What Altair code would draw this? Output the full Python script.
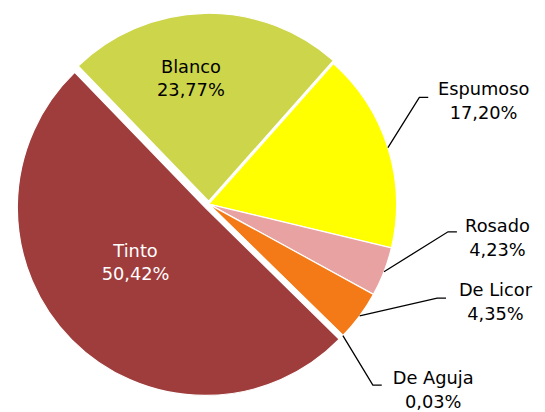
import math
import altair as alt
import pandas as pd

# ---- data ----
categories = ["Blanco", "Espumoso", "Rosado", "De Licor", "De Aguja", "Tinto"]
shares = [23.77, 17.20, 4.23, 4.35, 0.03, 50.42]
pct_labels = ["23,77%", "17,20%", "4,23%", "4,35%", "0,03%", "50,42%"]
colors = ["#CDD54A", "#FFFF00", "#E8A2A2", "#F47A18", "#F47A18", "#9F3C3C"]

# ---- layout / style ----
W, H = 406, 384
CX, CY = W / 2, H / 2
R = 190
START_DEG = -44.0
EXPLODE = {"Blanco": 3, "Tinto": 5}
FONT = "DejaVu Sans"
FSIZE = 18
LINE_H = 24
# label block centre, px from pie centre
LABEL_OFFSET = {
    "Blanco": (-18, -126), "Tinto": (-74, 60), "Espumoso": (278, -103),
    "Rosado": (292, 35), "De Licor": (290, 100), "De Aguja": (227, 189),
}
# leader-line elbow, px from pie centre
ELBOW_OFFSET = {
    "Espumoso": (213, -108), "Rosado": (242, 28),
    "De Licor": (231, 95), "De Aguja": (166, 183),
}
TAIL = 9

total = sum(shares)
start_rad = math.radians(START_DEG)

df = pd.DataFrame({"cat": categories, "share": shares, "order": list(range(len(categories)))})

explode_expr = " : ".join(
    [f"datum.cat == '{k}' ? {v}" for k, v in EXPLODE.items()]
) + " : 0"

arcs = (
    alt.Chart(df)
    .transform_window(cum="sum(share)", sort=[alt.SortField("order")], frame=[None, 0])
    .transform_calculate(
        beg="datum.cum - datum.share",
        mid=f"{start_rad} + (datum.cum - datum.share / 2) / {total} * 2 * PI",
        ex=explode_expr,
    )
    .transform_calculate(
        px=f"{CX} + datum.ex * sin(datum.mid)",
        py=f"{CY} - datum.ex * cos(datum.mid)",
    )
    .mark_arc(radius=R, stroke="white", strokeWidth=1.2)
    .encode(
        theta=alt.Theta("beg:Q", scale=alt.Scale(domain=[0, total], range=[start_rad, start_rad + 2 * math.pi])),
        theta2="cum:Q",
        x=alt.X("px:Q", scale=None, axis=None),
        y=alt.Y("py:Q", scale=None, axis=None),
        color=alt.Color("cat:N", scale=alt.Scale(domain=categories, range=colors), legend=None),
        order=alt.Order("order:Q"),
    )
)

# leader lines
rows = []
cum = 0.0
mids = {}
for c, s in zip(categories, shares):
    mids[c] = start_rad + (cum + s / 2) / total * 2 * math.pi
    cum += s
for c, (ex_, ey_) in ELBOW_OFFSET.items():
    m = mids[c]
    rows.append({"cat": c, "i": 0, "x": CX + R * math.sin(m), "y": CY - R * math.cos(m)})
    rows.append({"cat": c, "i": 1, "x": CX + ex_, "y": CY + ey_})
    rows.append({"cat": c, "i": 2, "x": CX + ex_ + TAIL, "y": CY + ey_})
lines_df = pd.DataFrame(rows)

lines = (
    alt.Chart(lines_df)
    .mark_line(color="black", strokeWidth=1.3)
    .encode(
        x=alt.X("x:Q", scale=None, axis=None),
        y=alt.Y("y:Q", scale=None, axis=None),
        detail="cat:N",
        order="i:Q",
    )
)

keys = [c for c in categories if c in LABEL_OFFSET]
lab_df = pd.DataFrame({
    "txt": [f"{c}\n{p}" for c, p in zip(categories, pct_labels) if c in LABEL_OFFSET],
    # first line's middle sits half a line above the block centre
    "x": [CX + LABEL_OFFSET[c][0] for c in keys],
    "y": [CY + LABEL_OFFSET[c][1] - LINE_H / 2 for c in keys],
    "col": ["white" if c == "Tinto" else "black" for c in keys],
})

labels = (
    alt.Chart(lab_df)
    .mark_text(font=FONT, fontSize=FSIZE, lineBreak="\n", lineHeight=LINE_H, align="center", baseline="middle")
    .encode(
        x=alt.X("x:Q", scale=None, axis=None),
        y=alt.Y("y:Q", scale=None, axis=None),
        text="txt:N",
        color=alt.Color("col:N", scale=None),
    )
)

chart = (
    alt.layer(arcs, lines, labels)
    .properties(width=W, height=H, padding={"left": 0, "top": 0, "right": 5, "bottom": 5})
    .configure_view(stroke=None)
)

chart.save("out.html", embed_options={"renderer": "svg", "actions": False})
